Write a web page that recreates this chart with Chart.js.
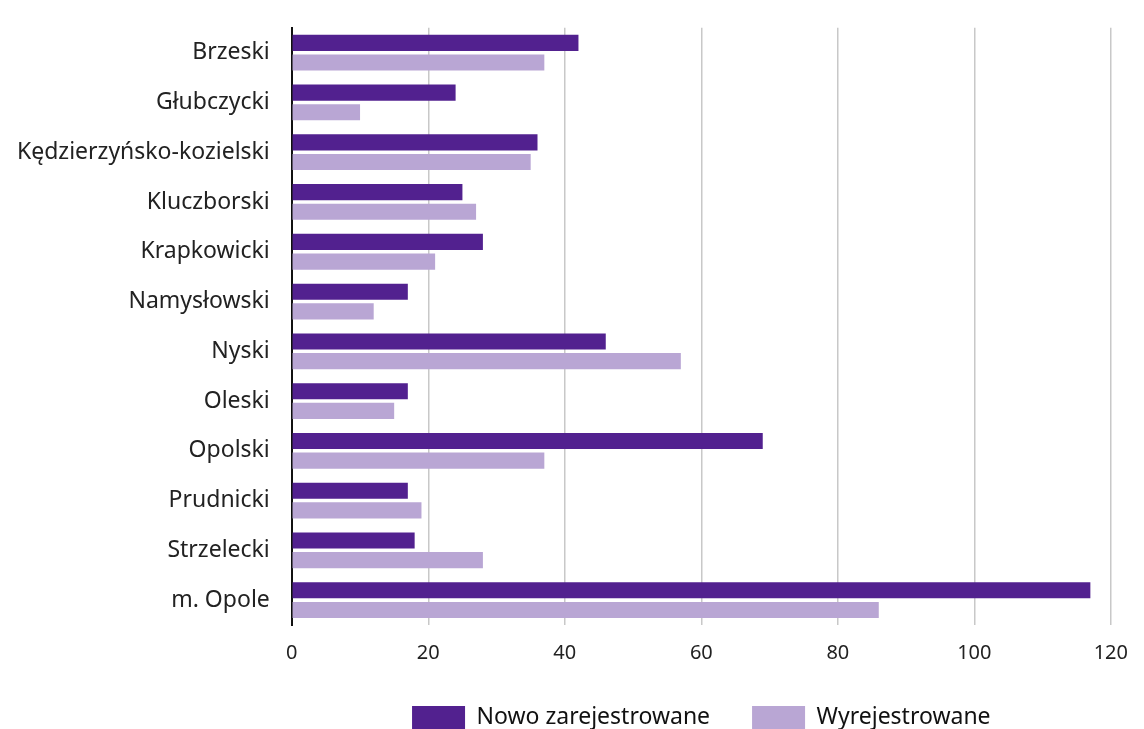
<!DOCTYPE html>
<html>
<head>
<meta charset="utf-8">
<script src="https://cdn.jsdelivr.net/npm/chart.js@4/dist/chart.umd.min.js"></script>
<style>
  html, body { margin: 0; padding: 0; background: #fff; }
  #wrap { width: 1144px; height: 729px; position: relative; }
</style>
</head>
<body>
<div id="wrap"><canvas id="powiatyChart"></canvas></div>
<script>
const powiaty = ["Brzeski", "Głubczycki", "Kędzierzyńsko-kozielski", "Kluczborski", "Krapkowicki",
    "Namysłowski", "Nyski", "Oleski", "Opolski", "Prudnicki", "Strzelecki", "m. Opole"];
const nowoZarejestrowane = [42, 24, 36, 25, 28, 17, 46, 17, 69, 17, 18, 117];
const wyrejestrowane = [37, 10, 35, 27, 21, 12, 57, 15, 37, 19, 28, 86];
const xTicks = [0, 20, 40, 60, 80, 100, 120];

Chart.defaults.font.family = "'Noto Sans', sans-serif";
Chart.defaults.color = "#222";

let ctx = document.getElementById("powiatyChart").getContext("2d");
let powiatyChart = new Chart(ctx, {
    type: "bar",
    data: {
        labels: powiaty,
        datasets: [
            {
                label: "Nowo zarejestrowane",
                data: nowoZarejestrowane,
                backgroundColor: "#52218f",
            },
            {
                label: "Wyrejestrowane",
                data: wyrejestrowane,
                backgroundColor: "#b9a6d4",
            },
        ],
    },
    options: {
        indexAxis: "y",
        maintainAspectRatio: false,
        responsive: true,
        animation: false,
        categoryPercentage: 0.79,
        barPercentage: 0.82,
        layout: {
            autoPadding: false,
            // negative bottom pulls the legend down to the edge
            padding: { top: -12, right: 8, left: 3, bottom: -10 },
        },
        scales: {
            x: {
                min: 0,
                max: 120,
                afterBuildTicks: (axis) => {
                    axis.ticks = xTicks.map((v) => ({ value: v }));
                },
                afterFit: (axis) => {
                    axis.height -= 17;
                },
                grid: {
                    color: "#c8c8c8",
                    lineWidth: 1.5,
                    drawTicks: false,
                },
                border: { display: false },
                ticks: {
                    font: { size: 20 },
                    padding: 16,
                },
            },
            y: {
                grid: { display: false },
                border: { color: "#111", width: 2 },
                ticks: {
                    font: { size: 23 },
                    padding: 14,
                },
            },
        },
        plugins: {
            legend: {
                position: "bottom",
                fullSize: false,
                labels: {
                    boxWidth: 53,
                    boxHeight: 23,
                    padding: 42,
                    font: { size: 23 },
                    color: "#111",
                },
            },
            tooltip: { enabled: false },
        },
    },
});
</script>
</body>
</html>
